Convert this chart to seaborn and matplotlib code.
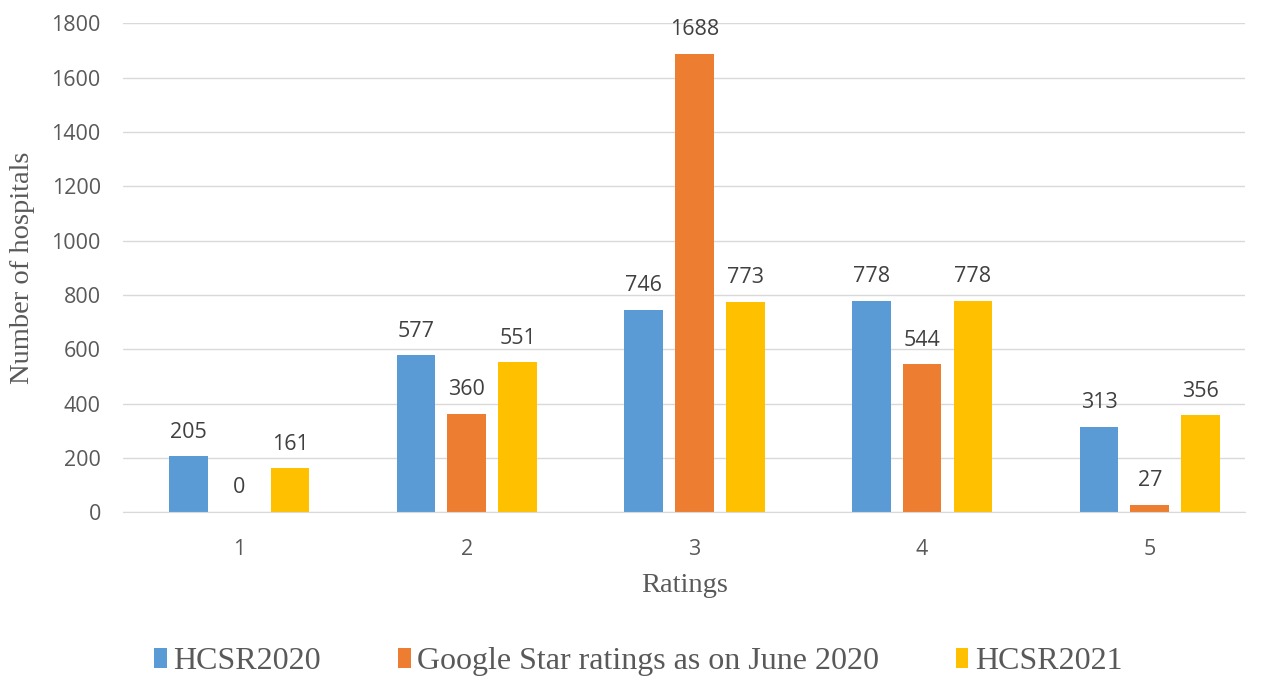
import matplotlib
matplotlib.use("Agg")
import matplotlib.pyplot as plt
import seaborn as sns
import pandas as pd

ratings = ["1", "2", "3", "4", "5"]
series_names = ["HCSR2020", "Google Star ratings as on June 2020", "HCSR2021"]
hcsr2020 = [205, 577, 746, 778, 313]
google2020 = [0, 360, 1688, 544, 27]
hcsr2021 = [161, 551, 773, 778, 356]
colors = ["#5B9BD5", "#ED7D31", "#FFC000"]

rows = []
for name, vals in zip(series_names, [hcsr2020, google2020, hcsr2021]):
    for r, v in zip(ratings, vals):
        rows.append({"Ratings": r, "Series": name, "Count": v})
df = pd.DataFrame(rows)

sns.set_style("white")
fig = plt.figure(figsize=(12.64, 6.82), dpi=100)
ax = fig.add_axes([0.0973, 0.249, 0.888, 0.717])

sns.barplot(data=df, x="Ratings", y="Count", hue="Series", order=ratings,
            hue_order=series_names, palette=colors, width=0.67, gap=0.24,
            saturation=1, ax=ax, legend=True, linewidth=0)

ax.set_ylim(0, 1800)
ax.set_yticks(range(0, 1801, 200))
ax.set_xlim(-0.51, 4.42)
ax.grid(axis="y", color="#D9D9D9", linewidth=1)
ax.set_axisbelow(True)
for s in ["top", "right", "left"]:
    ax.spines[s].set_visible(False)
ax.spines["bottom"].set_color("#D9D9D9")
ax.tick_params(axis="y", length=0, labelsize=15.5, colors="#595959", pad=16)
ax.tick_params(axis="x", length=0, labelsize=15.5, colors="#595959", pad=19)
for lab in ax.get_xticklabels() + ax.get_yticklabels():
    lab.set_fontfamily("Open Sans")

for cont in ax.containers:
    ax.bar_label(cont, fmt="%d", padding=10, fontsize=15.5, color="#404040",
                 fontfamily="Open Sans")

ax.set_xlabel("Ratings", fontfamily="Liberation Serif", fontsize=20.5, color="#595959", labelpad=10)
ax.set_ylabel("Number of hospitals", fontfamily="Liberation Serif", fontsize=20.5, color="#595959", labelpad=12)

handles, labels = ax.get_legend_handles_labels()
ax.legend_.remove()
fig.legend(handles, labels, loc="center", bbox_to_anchor=(0.505, 0.03), ncol=3,
           frameon=False, prop={"family": "Liberation Serif", "size": 23},
           handlelength=0.4, handleheight=0.6, handletextpad=0.2, columnspacing=2.4,
           labelcolor="#595959")

fig.savefig("out.png", dpi=100)
